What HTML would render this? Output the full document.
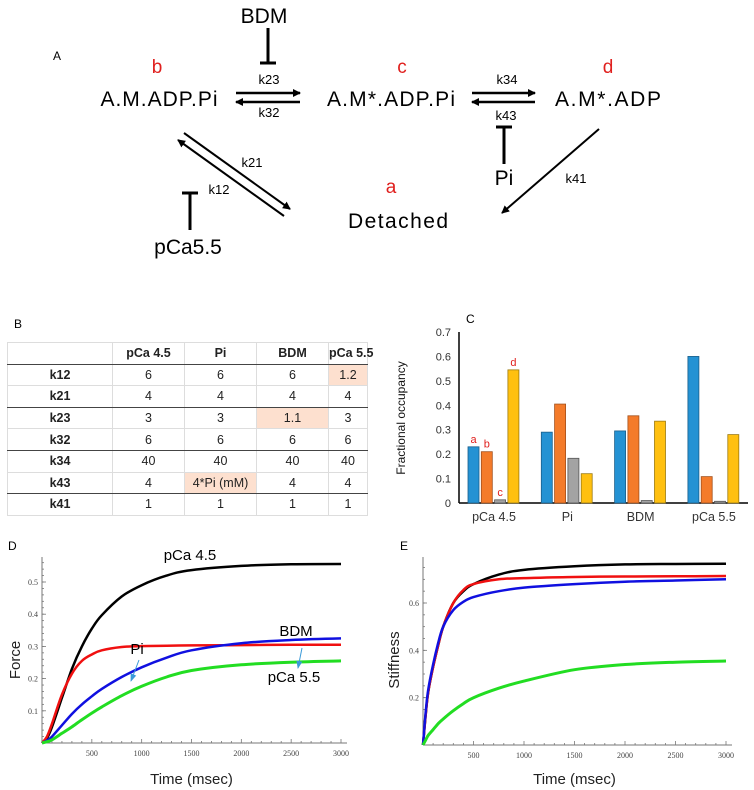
<!DOCTYPE html>
<html><head><meta charset="utf-8"><style>
body{margin:0;background:#fff;width:754px;height:790px;overflow:hidden;position:relative;font-family:"Liberation Sans",sans-serif}
svg{position:absolute;left:0;top:0}
table{position:absolute;left:7px;top:342px;border-collapse:collapse;font-family:"Liberation Sans",sans-serif;font-size:12.5px;color:#222;table-layout:fixed;width:355px}
td{height:20.6px;padding:0;text-align:center;border-left:1px solid #ddd;border-right:1px solid #ddd;border-bottom:1px solid #ddd;white-space:nowrap;overflow:visible}
tr.top td{border-top:1px solid #ddd}
tr.thick td{border-bottom:1.6px solid #444}
td.h{font-weight:bold}
td.s{background:#fde0cf}
</style></head><body>
<svg width="754" height="790" xmlns="http://www.w3.org/2000/svg">
<defs><marker id="ah" markerWidth="8" markerHeight="8" refX="7" refY="4" orient="auto" markerUnits="userSpaceOnUse"><path d="M0,0 L8,4 L0,8 z" fill="#000"/></marker>
<marker id="bh" markerWidth="8" markerHeight="8" refX="7" refY="4" orient="auto" markerUnits="userSpaceOnUse"><path d="M0,1 L8,4 L0,7 z" fill="#3a9ad9"/></marker></defs>
<g font-family="Liberation Sans, sans-serif">
<text x="53" y="60" font-size="12">A</text>
<text x="264" y="23" font-size="21" text-anchor="middle">BDM</text>
<line x1="268" y1="28" x2="268" y2="63" stroke="#000" stroke-width="3"/><line x1="260" y1="63" x2="276" y2="63" stroke="#000" stroke-width="3"/>
<text x="157" y="73" font-size="19" fill="#e0201e" text-anchor="middle">b</text>
<text x="402" y="73" font-size="19" fill="#e0201e" text-anchor="middle">c</text>
<text x="608" y="73" font-size="19" fill="#e0201e" text-anchor="middle">d</text>
<text x="159" y="106" font-size="21" text-anchor="middle" textLength="117">A.M.ADP.Pi</text>
<text x="391" y="106" font-size="21" text-anchor="middle" textLength="128">A.M*.ADP.Pi</text>
<text x="608" y="106" font-size="21" text-anchor="middle" textLength="106">A.M*.ADP</text>
<text x="269" y="84" font-size="13" text-anchor="middle">k23</text><text x="269" y="117" font-size="13" text-anchor="middle">k32</text>
<line x1="236" y1="93" x2="300" y2="93" stroke="#000" stroke-width="2.5" marker-end="url(#ah)"/>
<line x1="300" y1="102" x2="236" y2="102" stroke="#000" stroke-width="2.5" marker-end="url(#ah)"/>
<text x="507" y="84" font-size="13" text-anchor="middle">k34</text><text x="506" y="120" font-size="13" text-anchor="middle">k43</text>
<line x1="472" y1="93" x2="535" y2="93" stroke="#000" stroke-width="2.5" marker-end="url(#ah)"/>
<line x1="535" y1="102" x2="472" y2="102" stroke="#000" stroke-width="2.5" marker-end="url(#ah)"/>
<line x1="504" y1="127" x2="504" y2="164" stroke="#000" stroke-width="3"/><line x1="496" y1="127" x2="512" y2="127" stroke="#000" stroke-width="3"/>
<text x="504" y="185" font-size="21" text-anchor="middle">Pi</text>
<line x1="599" y1="129" x2="502" y2="213" stroke="#000" stroke-width="2" marker-end="url(#ah)"/>
<text x="576" y="183" font-size="13" text-anchor="middle">k41</text>
<text x="391" y="193" font-size="19" fill="#e0201e" text-anchor="middle">a</text>
<text x="398" y="228" font-size="21" text-anchor="middle" textLength="100">Detached</text>
<line x1="184" y1="133" x2="290" y2="209" stroke="#000" stroke-width="2" marker-end="url(#ah)"/>
<line x1="284" y1="216" x2="178" y2="140" stroke="#000" stroke-width="2" marker-end="url(#ah)"/>
<text x="252" y="167" font-size="13" text-anchor="middle">k21</text><text x="219" y="194" font-size="13" text-anchor="middle">k12</text>
<line x1="190" y1="193" x2="190" y2="230" stroke="#000" stroke-width="3"/><line x1="182" y1="193" x2="198" y2="193" stroke="#000" stroke-width="3"/>
<text x="188" y="254" font-size="21" text-anchor="middle">pCa5.5</text>
</g>
<text x="14" y="328" font-size="12">B</text>
<text x="466" y="323" font-size="12">C</text>
<text x="8" y="550" font-size="12">D</text>
<text x="400" y="550" font-size="12">E</text>
<g id="barc"></g>
<g id="chd"></g>
<g id="che"></g>
</svg>
<table>
<tr class="thick top"><td style="width:104px"></td><td class="h" style="width:71px">pCa 4.5</td><td class="h" style="width:71px">Pi</td><td class="h" style="width:71px">BDM</td><td class="h" style="width:38px">pCa 5.5</td></tr>
<tr><td class="h">k12</td><td>6</td><td>6</td><td>6</td><td class="s">1.2</td></tr>
<tr class="thick"><td class="h">k21</td><td>4</td><td>4</td><td>4</td><td>4</td></tr>
<tr><td class="h">k23</td><td>3</td><td>3</td><td class="s">1.1</td><td>3</td></tr>
<tr class="thick"><td class="h">k32</td><td>6</td><td>6</td><td>6</td><td>6</td></tr>
<tr><td class="h">k34</td><td>40</td><td>40</td><td>40</td><td>40</td></tr>
<tr class="thick"><td class="h">k43</td><td>4</td><td class="s">4*Pi (mM)</td><td>4</td><td>4</td></tr>
<tr><td class="h">k41</td><td>1</td><td>1</td><td>1</td><td>1</td></tr>
</table>
<script>
const barCategories=["pCa 4.5","Pi","BDM","pCa 5.5"];
const barDetached=[0.23,0.29,0.295,0.6];
const barB=[0.21,0.405,0.357,0.108];
const barC=[0.013,0.183,0.01,0.007];
const barD=[0.545,0.12,0.335,0.28];
const barTicks=[0,0.1,0.2,0.3,0.4,0.5,0.6,0.7];
const forceTime=[0,50,100,200,300,400,500,600,800,1000,1250,1500,2000,2500,3000];
const forcePCa45=[0,0.015,0.05,0.14,0.23,0.3,0.355,0.397,0.455,0.49,0.52,0.537,0.55,0.555,0.556];
const forcePi=[0,0.02,0.06,0.15,0.215,0.255,0.275,0.288,0.298,0.301,0.302,0.303,0.304,0.305,0.305];
const forceBDM=[0,0.008,0.02,0.055,0.09,0.12,0.145,0.168,0.205,0.235,0.265,0.288,0.31,0.32,0.325];
const forcePCa55=[0,0.004,0.01,0.03,0.05,0.072,0.093,0.112,0.147,0.176,0.205,0.225,0.243,0.251,0.255];
const stiffTime=[0,25,50,100,150,200,300,400,500,750,1000,1500,2000,2500,3000];
const stiffPCa45=[0,0.12,0.22,0.33,0.42,0.5,0.6,0.65,0.68,0.72,0.74,0.755,0.763,0.765,0.766];
const stiffPi=[0,0.12,0.22,0.33,0.42,0.5,0.6,0.655,0.68,0.7,0.705,0.71,0.712,0.713,0.714];
const stiffBDM=[0,0.13,0.23,0.34,0.43,0.5,0.57,0.605,0.625,0.65,0.665,0.68,0.69,0.695,0.7];
const stiffPCa55=[0,0.02,0.04,0.065,0.09,0.11,0.145,0.175,0.2,0.24,0.27,0.318,0.34,0.35,0.355];
const xTicks=[500,1000,1500,2000,2500,3000];
const forceTicks=[0.1,0.2,0.3,0.4,0.5];
const stiffTicks=[0.2,0.4,0.6];
const NS="http://www.w3.org/2000/svg";
function mk(p,tag,a,txt){const e=document.createElementNS(NS,tag);for(const k in a)e.setAttribute(k,a[k]);if(txt!==undefined)e.textContent=txt;p.appendChild(e);return e;}
const bg=document.getElementById('barc');
const bx0=459,bx1=748,by0=503,byTop=332;
function byv(v){return by0-(v/0.7)*(by0-byTop);}
function bcx(i){return 494+i*73.3;}
mk(bg,'line',{x1:bx0,y1:byTop,x2:bx0,y2:by0,stroke:'#000','stroke-width':1.5});
mk(bg,'line',{x1:bx0,y1:by0,x2:bx1,y2:by0,stroke:'#000','stroke-width':1.5});
barTicks.forEach(t=>{const e=mk(bg,'text',{x:bx0-8,y:byv(t)+4,'font-size':11,'text-anchor':'end',fill:'#333'},String(t));

});
const yl=mk(bg,'text',{x:0,y:0,'font-size':12,'text-anchor':'middle',fill:'#111',transform:'translate(405,418) rotate(-90)'},'Fractional occupancy');


const series=[barDetached,barB,barC,barD];const cols=['#2492d3','#f47b2a','#a3a3a3','#ffc010'];const strokes=['#1a5e8a','#a3501c','#555','#9c7a10'];
barCategories.forEach((c,i)=>{
 const t=mk(bg,'text',{x:bcx(i),y:521,'font-size':12.5,'text-anchor':'middle',fill:'#333'},c);
 
 
 series.forEach((s,j)=>{const x=bcx(i)-26+j*13.3;const y=byv(s[i]);
  const r=mk(bg,'rect',{x:x,y:y,width:11,height:by0-y,fill:cols[j],stroke:strokes[j],'stroke-width':0.8});
  
  
  if(i===0){mk(bg,'text',{x:x+5.5,y:y-4,'font-size':11,'text-anchor':'middle',fill:'#e0201e'},'abcd'[j]);}
 });
});
function smooth(pts){let d='M'+pts[0][0]+','+pts[0][1];for(let i=0;i<pts.length-1;i++){const p0=pts[Math.max(0,i-1)],p1=pts[i],p2=pts[i+1],p3=pts[Math.min(pts.length-1,i+2)];
 const c1=[p1[0]+(p2[0]-p0[0])/6,p1[1]+(p2[1]-p0[1])/6],c2=[p2[0]-(p3[0]-p1[0])/6,p2[1]-(p3[1]-p1[1])/6];
 d+=' C'+c1[0].toFixed(1)+','+c1[1].toFixed(1)+' '+c2[0].toFixed(1)+','+c2[1].toFixed(1)+' '+p2[0].toFixed(1)+','+p2[1].toFixed(1);}return d;}
function chart(g,x0,x1,y0,yTop,vmax,axisTop,yt,minor,times,lines,ylabel,ylx){
 const X=t=>x0+t/3000*(x1-x0), Y=v=>y0-v/vmax*(y0-yTop);
 mk(g,'line',{x1:x0,y1:axisTop,x2:x0,y2:y0,stroke:'#777','stroke-width':1});
 mk(g,'line',{x1:x0,y1:y0,x2:x1+6,y2:y0,stroke:'#777','stroke-width':1});
 for(let t=100;t<=3000;t+=100){mk(g,'line',{x1:X(t),y1:y0,x2:X(t),y2:y0-(t%500?2:4),stroke:'#777','stroke-width':0.8});}
 for(let v=minor;Y(v)>axisTop;v+=minor){mk(g,'line',{x1:x0,y1:Y(v),x2:x0+2,y2:Y(v),stroke:'#777','stroke-width':0.8});}
 yt.forEach(v=>{mk(g,'line',{x1:x0,y1:Y(v),x2:x0+4,y2:Y(v),stroke:'#777','stroke-width':0.8});
  const e=mk(g,'text',{x:x0-4,y:Y(v)+3,'font-size':8,'font-family':'Liberation Serif, serif','text-anchor':'end',fill:'#444'},String(v));
  
  });
 xTicks.forEach(t=>{const e=mk(g,'text',{x:X(t),y:y0+13,'font-size':8,'font-family':'Liberation Serif, serif','text-anchor':'middle',fill:'#444'},String(t));
  
  });
 lines.forEach(l=>{const p=mk(g,'path',{d:smooth(times.map((t,i)=>[X(t),Y(l[0][i])])),fill:'none',stroke:l[1],'stroke-width':l[2]});
  
  });
 const xt=mk(g,'text',{x:(x0+x1)/2,y:784,'font-size':15,'text-anchor':'middle',fill:'#222'},'Time (msec)');
 
 
 const ytl=mk(g,'text',{x:0,y:0,'font-size':15,'text-anchor':'middle',fill:'#222',transform:'translate('+ylx+',660) rotate(-90)'},ylabel);
 
 
}
const gd=document.getElementById('chd');
chart(gd,42,341,743,582,0.5,557,forceTicks,0.02,forceTime,[[forcePCa45,'#000',2.5,'line-pca45'],[forcePi,'#f01010',2.5,'line-pi'],[forceBDM,'#1010e0',2.5,'line-bdm'],[forcePCa55,'#22dd22',3,'line-pca55']],'Force',20);
mk(gd,'text',{x:190,y:560,'font-size':15,'text-anchor':'middle'},'pCa 4.5');
mk(gd,'text',{x:137,y:654,'font-size':15,'text-anchor':'middle'},'Pi');
mk(gd,'text',{x:296,y:636,'font-size':15,'text-anchor':'middle'},'BDM');
mk(gd,'text',{x:294,y:682,'font-size':15,'text-anchor':'middle'},'pCa 5.5');
mk(gd,'line',{x1:139,y1:660,x2:131,y2:681,stroke:'#3a9ad9','stroke-width':1,'marker-end':'url(#bh)'});
mk(gd,'line',{x1:302,y1:648,x2:298,y2:668,stroke:'#3a9ad9','stroke-width':1,'marker-end':'url(#bh)'});
const ge=document.getElementById('che');
chart(ge,423,726,745,603,0.6,557,stiffTicks,0.05,stiffTime,[[stiffPCa45,'#000',2.5,'line-pca45'],[stiffPi,'#f01010',2.5,'line-pi'],[stiffBDM,'#1010e0',2.5,'line-bdm'],[stiffPCa55,'#22dd22',3,'line-pca55']],'Stiffness',399);
</script>
</body></html>
